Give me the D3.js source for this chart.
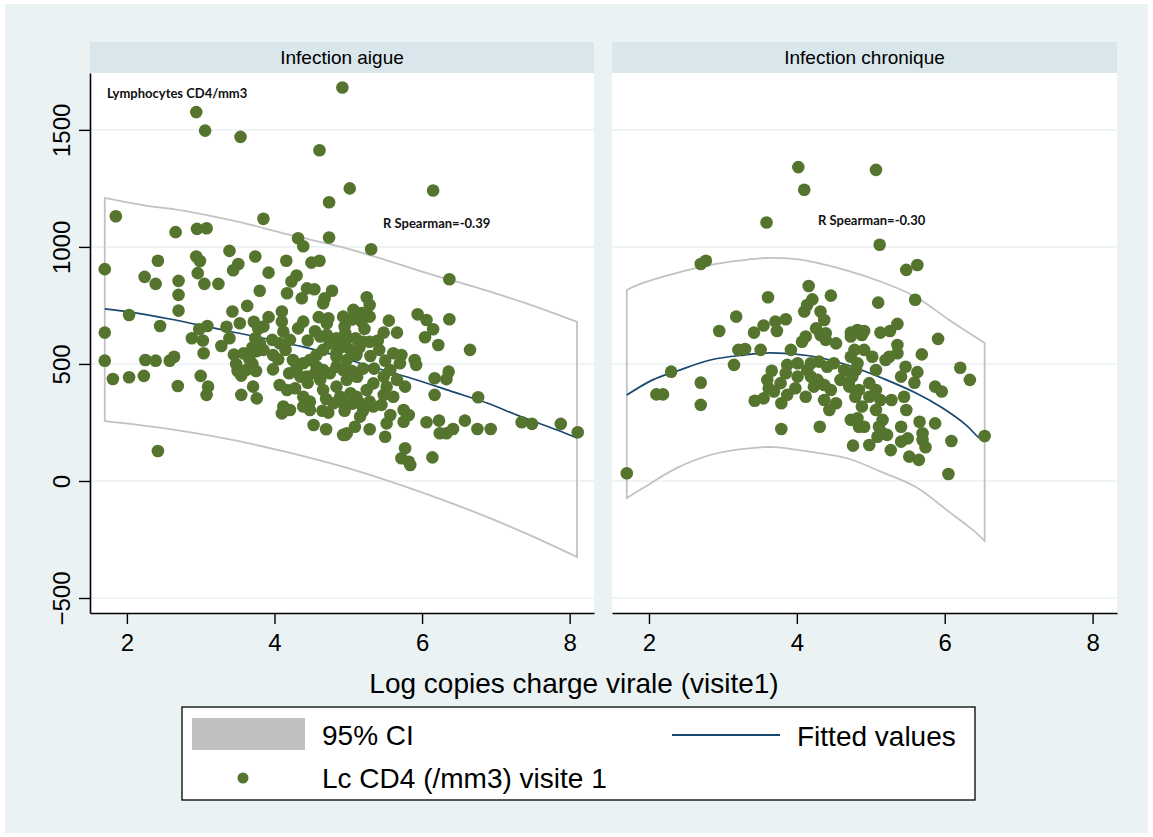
<!DOCTYPE html>
<html>
<head>
<meta charset="utf-8">
<title>Lymphocytes CD4 / charge virale</title>
<script src="https://cdn.jsdelivr.net/npm/d3@7"></script>
<style>
body { margin: 0; background: #fff; }
svg text { font-family: "Liberation Sans", Arial, sans-serif; fill: #000; }
.note { font-family: Lato, "Open Sans", sans-serif !important; font-weight: bold; font-size: 13px; fill: #111; }
</style>
</head>
<body>
<div id="chart"></div>
<script>
// ---- data ----
var panelTitles = ["Infection aigue", "Infection chronique"];
var spearman = ["R Spearman=-0.39", "R Spearman=-0.30"];
var xTicks = [2, 4, 6, 8];
var yTicks = [-500, 0, 500, 1000, 1500];
var legendLabels = ["95% CI", "Fitted values", "Lc CD4 (/mm3) visite 1"];

var aiguePoints = [
  [4.92,1681],[2.94,1576],[3.06,1497],[3.54,1470],[4.61,1413],[5.02,1250],[6.15,1241],[4.74,1191],
  [1.85,1131],[3.85,1120],[2.66,1063],[2.95,1077],[3.08,1080],[4.32,1037],[4.39,1003],[4.74,1040],
  [3.39,983],[5.31,990],[2.42,941],[2.94,959],[2.99,940],[3.74,959],[4.16,941],[4.50,933],[4.61,941],
  [3.51,927],[3.44,900],[3.92,890],[1.70,905],[2.24,872],[2.96,888],[4.30,878],[6.37,862],
  [2.39,842],[2.70,855],[2.70,795],[2.70,728],[3.05,842],[3.24,842],[3.80,813],[4.23,852],[4.17,802],
  [4.44,823],[4.54,819],[4.37,781],[4.78,813],[4.68,781],[4.66,759],[3.63,748],[3.43,724],[2.03,709],
  [2.45,662],[1.70,634],[1.70,514],[1.81,436],[2.03,443],[2.23,449],[2.25,517],[2.39,514],[2.58,514],
  [2.64,531],[2.69,406],[2.42,128],[2.88,610],[2.98,648],[3.09,662],[3.03,600],[3.04,546],[3.00,449],
  [3.10,403],[3.08,368],[3.28,577],[3.35,659],[3.39,610],[3.53,674],
  [3.45,540],[3.48,500],[3.50,470],[3.55,450],[3.62,475],[3.66,520],[3.58,545],[3.70,500],[3.75,470],
  [3.72,680],[3.78,650],[3.85,660],[3.74,610],[3.80,590],[3.70,570],[3.76,555],[3.85,560],
  [3.92,700],[3.97,603],[3.98,538],[3.98,477],[3.55,368],[3.71,403],[3.76,353],
  [4.10,724],[4.10,681],[4.12,638],[4.21,603],[4.07,588],[4.39,681],[4.32,652],
  [4.25,517],[4.30,482],[4.39,503],[4.48,517],[4.57,488],
  [4.07,410],[4.17,389],[4.28,396],[4.39,360],[4.48,339],
  [4.12,318],[4.10,289],[4.21,303],[4.44,446],[4.35,446],
  [4.62,617],[4.71,624],[4.75,588],[4.84,610],[4.73,695],[4.71,674],[4.93,702],
  [4.66,474],[4.75,460],[4.84,488],[4.93,474],
  [4.62,432],[4.66,389],[4.84,403],[4.89,360],[4.80,332],
  [4.73,292],[4.53,239],[4.70,221],[4.48,303],[4.39,318],[4.93,197],[4.98,204],
  [4.57,538],[4.66,560],[4.84,546],[4.84,531],[4.93,574],[4.98,517],
  [4.45,600],[4.55,640],[4.95,660],[5.05,690],[5.10,610],[5.15,570],[5.22,650],[4.60,700],
  [4.88,580],[5.05,470],[5.12,445],[5.20,480],[4.55,460],[4.45,420],[4.70,350],[4.95,300],
  [5.05,330],[5.20,300],[4.65,300],[5.40,600],[5.35,480],[5.42,560],[4.20,460],[4.05,520],[4.15,560],
  [5.25,785],[5.29,752],[5.07,731],[5.18,717],[5.29,702],[5.18,681],[5.55,685],[5.94,712],[6.06,688],
  [6.37,691],[6.15,648],[6.04,614],[6.22,581],[5.48,634],[5.66,634],[4.96,631],[4.96,595],[5.03,560],
  [5.11,538],[5.20,595],[5.29,595],[5.30,534],[5.50,514],[5.61,546],[5.72,538],[5.70,503],[5.90,517],
  [5.92,496],[6.65,560],[6.36,467],[6.33,435],[6.17,439],[6.17,368],[6.76,358],
  [5.57,474],[5.48,446],[5.34,417],[5.66,432],[5.52,403],[5.77,403],[5.61,360],[5.48,368],
  [4.98,432],[5.03,375],[5.11,360],[5.25,389],[5.29,339],[5.34,318],[5.45,325],[4.93,332],[5.16,332],
  [5.57,282],[5.75,303],[5.82,282],[5.75,253],
  [5.16,275],[5.09,232],[4.96,197],[5.29,221],[5.50,189],[5.52,246],
  [6.06,251],[6.23,258],[6.58,258],[6.24,204],[6.33,204],[6.42,222],[6.75,222],[6.93,222],
  [7.35,251],[7.49,244],[7.88,244],[8.11,208],
  [5.77,140],[5.72,97],[5.82,82],[5.84,68],[6.14,101]
];

var chroniquePoints = [
  [4.02,1341],[4.10,1244],[3.59,1104],[2.70,927],[2.77,941],[4.16,833],[3.61,785],[4.46,792],
  [4.21,776],[4.14,752],[4.10,724],[4.32,724],[4.37,688],[3.18,702],[2.95,641],[3.42,634],[3.55,664],
  [3.71,681],[3.85,691],[3.73,641],[4.26,652],[4.39,631],[4.73,634],[4.82,645],[4.12,617],
  [5.07,1329],[5.12,1009],[5.48,902],[5.63,923],[5.10,762],[5.60,774],[4.91,641],[5.13,634],
  [5.26,641],[5.36,671],[5.91,607],
  [3.21,560],[3.30,564],[3.51,560],[3.92,560],[4.07,595],[4.32,624],[4.39,603],[4.53,588],[4.73,617],
  [4.78,560],[4.73,531],[4.82,503],[4.80,474],
  [2.30,467],[2.70,420],[2.70,325],[2.10,370],[2.19,370],[3.15,496],
  [3.66,471],[3.60,432],[3.62,396],[3.69,382],[3.78,418],[3.87,496],[3.85,460],[4.01,446],[3.98,396],
  [3.87,368],[3.43,343],[3.55,353],[3.79,332],[4.12,360],
  [4.01,503],[4.14,474],[4.19,446],[4.28,432],[4.37,410],[4.46,389],[4.23,403],[4.19,503],[4.30,510],
  [4.41,488],[4.50,503],[4.64,474],[4.59,432],[4.71,403],
  [4.37,346],[4.53,332],[4.44,303],[3.79,222],[4.31,232],[4.73,261],[4.82,268],[4.84,232],[4.76,151],
  [1.70,33],
  [5.69,541],[5.36,581],[6.21,484],[6.34,432],[5.87,403],[5.96,382],[5.63,465],[5.59,420],[5.47,488],
  [5.41,446],[5.45,360],[5.48,303],[5.28,346],[5.66,253],[5.87,246],[5.41,232],[5.50,182],[5.41,168],
  [5.70,204],[5.70,175],[5.74,144],[6.09,171],[5.27,132],[5.52,104],[5.65,90],[6.05,30],[6.54,192],
  [4.98,154],[5.16,204],[5.22,197],[5.09,189],[4.88,318],[4.91,232],[5.07,303],[5.16,261],[5.11,232],
  [4.70,418],[4.84,389],[4.98,418],[5.07,389],[5.13,346],[4.98,360],[4.79,360],
  [4.91,560],[5.02,531],[5.07,474],[5.20,517],[5.25,531],[5.36,546],[4.88,624],[4.75,446]
];

var aigueFit = [
  [1.70,735],[2.09,719],[2.58,692],[3.30,645],[3.84,611],[4.39,573],[4.73,545],[5.19,500],
  [5.80,444],[6.38,385],[6.88,333],[7.33,276],[7.83,218],[8.10,184]
];
var aigueCiHi = [
  [1.70,1210],[2.20,1180],[2.85,1150],[3.50,1108],[4.20,1052],[4.90,1000],[5.50,945],
  [6.10,885],[6.70,830],[7.40,760],[8.10,680]
];
var aigueCiLo = [
  [1.70,256],[2.20,238],[2.85,209],[3.50,171],[4.20,121],[4.90,63],[5.50,5],
  [6.10,-60],[6.70,-131],[7.40,-223],[8.10,-325]
];

var chroniqueFit = [
  [1.70,367],[2.05,432],[2.38,470],[2.83,517],[3.28,538],[3.64,547],[4.19,534],[4.64,500],
  [4.91,470],[5.15,440],[5.61,376],[5.97,312],[6.29,239],[6.45,188],[6.54,167]
];
var chroniqueCiHi = [
  [1.70,816],[1.92,846],[2.38,889],[2.83,923],[3.28,944],[3.64,953],[4.09,944],[4.67,900],
  [5.15,850],[5.61,786],[6.06,688],[6.54,590]
];
var chroniqueCiLo = [
  [1.70,-73],[1.92,-30],[2.38,56],[2.83,111],[3.28,137],[3.68,145],[4.19,124],[4.70,95],
  [5.15,38],[5.61,-26],[6.06,-132],[6.38,-209],[6.54,-256]
];

// ---- layout ----
var W = 1153, H = 837;
var plotTop = 73, plotBottom = 613, stripTop = 42;
var panels = [
  { x0: 90,  x1: 594,  title: panelTitles[0], note: spearman[0], noteAt: [383, 228],
    pts: aiguePoints, fit: aigueFit, hi: aigueCiHi, lo: aigueCiLo, yAxis: true },
  { x0: 612, x1: 1117, title: panelTitles[1], note: spearman[1], noteAt: [818, 225],
    pts: chroniquePoints, fit: chroniqueFit, hi: chroniqueCiHi, lo: chroniqueCiLo, yAxis: false }
];

var svg = d3.select("#chart").append("svg")
    .attr("width", W)
    .attr("height", H);

svg.append("rect").attr("x", 5).attr("y", 4).attr("width", 1143).attr("height", 829)
  .attr("fill", "#eaf2f3");

var y = d3.scaleLinear().domain([-564, 1743]).range([plotBottom, plotTop]);

panels.forEach(function(p) {
  var x = d3.scaleLinear().domain([1.5, 8.33]).range([p.x0, p.x1]);
  var g = svg.append("g");

  // strip
  g.append("rect").attr("x", p.x0).attr("y", stripTop)
    .attr("width", p.x1 - p.x0).attr("height", plotTop - stripTop)
    .attr("fill", "#d9e6eb");
  g.append("text").attr("x", (p.x0 + p.x1) / 2).attr("y", 64)
    .attr("text-anchor", "middle").style("font-size", "19px").text(p.title);

  // plot region
  g.append("rect").attr("x", p.x0).attr("y", plotTop)
    .attr("width", p.x1 - p.x0).attr("height", plotBottom - plotTop)
    .attr("fill", "#fff");

  g.selectAll("line.grid").data(yTicks).enter().append("line")
    .attr("class", "grid")
    .attr("x1", p.x0).attr("x2", p.x1)
    .attr("y1", function(d) { return y(d); }).attr("y2", function(d) { return y(d); })
    .attr("stroke", "#eaf2f3").attr("stroke-width", 1.6);

  // CI outline: upper curve, right edge, lower curve back, left edge
  var curve = d3.line()
    .x(function(d) { return x(d[0]); })
    .y(function(d) { return y(d[1]); })
    .curve(d3.curveCatmullRom);
  var lower = p.lo.slice().reverse();
  var dPath = curve(p.hi) + "L" + curve(lower).slice(1) + "Z";
  g.append("path").attr("d", dPath)
    .attr("fill", "none").attr("stroke", "#c2c2c2").attr("stroke-width", 1.8);

  g.append("path").attr("d", curve(p.fit))
    .attr("fill", "none").attr("stroke", "#1a476f").attr("stroke-width", 1.7);

  g.selectAll("circle").data(p.pts).enter().append("circle")
    .attr("cx", function(d) { return x(d[0]); })
    .attr("cy", function(d) { return y(d[1]); })
    .attr("r", 6.3)
    .attr("fill", "#55752f");

  g.append("text").attr("class", "note")
    .attr("x", p.noteAt[0]).attr("y", p.noteAt[1]).text(p.note);

  // x axis
  var xa = g.append("g").attr("transform", "translate(0," + plotBottom + ")")
    .call(d3.axisBottom(x).tickValues(xTicks).tickFormat(d3.format("d"))
      .tickSize(11).tickSizeOuter(0).tickPadding(10));
  xa.select(".domain").attr("stroke", "#000").attr("stroke-width", 1.6);
  xa.selectAll(".tick line").attr("stroke", "#000").attr("stroke-width", 1.4);
  xa.selectAll(".tick text").style("font-size", "24px")
    .style("font-family", "'Liberation Sans', Arial, sans-serif");

  if (p.yAxis) {
    var ya = g.append("g").attr("transform", "translate(" + p.x0 + ",0)")
      .call(d3.axisLeft(y).tickValues(yTicks).tickFormat(d3.format("d"))
        .tickSize(11).tickSizeOuter(0));
    ya.select(".domain").attr("stroke", "#000").attr("stroke-width", 1.6);
    ya.selectAll(".tick line").attr("stroke", "#000").attr("stroke-width", 1.4);
    ya.selectAll(".tick text")
      .attr("x", null).attr("dy", null)
      .attr("transform", "translate(-20,0) rotate(-90)")
      .attr("text-anchor", "middle")
      .style("font-size", "24px")
      .style("font-family", "'Liberation Sans', Arial, sans-serif");
  }
});

svg.append("text").attr("class", "note").attr("x", 107).attr("y", 98)
  .text("Lymphocytes CD4/mm3");

svg.append("text").attr("x", 574).attr("y", 693).attr("text-anchor", "middle")
  .style("font-size", "28px").text("Log copies charge virale (visite1)");

// legend
var lg = svg.append("g");
lg.append("rect").attr("x", 182).attr("y", 707).attr("width", 793).attr("height", 93)
  .attr("fill", "#fff").attr("stroke", "#000").attr("stroke-width", 1.3);
lg.append("rect").attr("x", 192).attr("y", 718).attr("width", 113).attr("height", 32)
  .attr("fill", "#c0c0c0");
lg.append("text").attr("x", 322).attr("y", 745).style("font-size", "28px").text(legendLabels[0]);
lg.append("line").attr("x1", 672).attr("x2", 780).attr("y1", 735).attr("y2", 735)
  .attr("stroke", "#1a476f").attr("stroke-width", 2);
lg.append("text").attr("x", 797).attr("y", 746).style("font-size", "28px").text(legendLabels[1]);
lg.append("circle").attr("cx", 243).attr("cy", 778).attr("r", 5.5).attr("fill", "#55752f");
lg.append("text").attr("x", 322).attr("y", 788).style("font-size", "28px").text(legendLabels[2]);
</script>
</body>
</html>
